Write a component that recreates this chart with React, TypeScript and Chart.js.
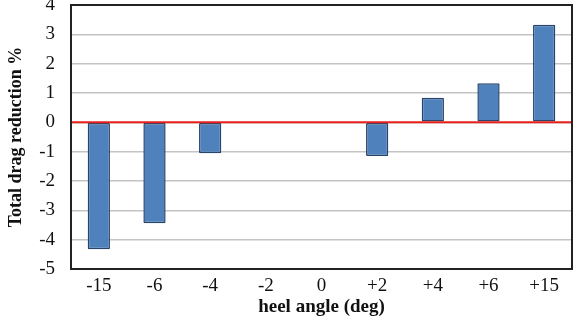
import React, { useEffect, useRef } from "react";
import { Chart, registerables } from "chart.js";

Chart.register(...registerables);

const categories = ["-15", "-6", "-4", "-2", "0", "+2", "+4", "+6", "+15"];
const dragReduction: (number | null)[] = [-4.33, -3.44, -1.05, null, null, -1.15, 0.84, 1.33, 3.33];
const yMin = -5;
const yMax = 4;

const serif = "'Liberation Serif', 'Times New Roman', serif";

const frameAndZero = {
  id: "frameAndZero",
  afterDatasetsDraw(chart: any) {
    const { ctx, chartArea, scales } = chart;
    const y0 = scales.y.getPixelForValue(0);
    ctx.save();
    ctx.strokeStyle = "#e8201c";
    ctx.lineWidth = 2;
    ctx.beginPath();
    ctx.moveTo(chartArea.left, y0);
    ctx.lineTo(chartArea.right, y0);
    ctx.stroke();
    ctx.strokeStyle = "#222";
    ctx.lineWidth = 2;
    ctx.strokeRect(chartArea.left, chartArea.top, chartArea.right - chartArea.left, chartArea.bottom - chartArea.top);
    ctx.restore();
  },
};

export default function App() {
  const ref = useRef<HTMLCanvasElement>(null);
  useEffect(() => {
    const chart = new Chart(ref.current!, {
      type: "bar",
      data: {
        labels: categories,
        datasets: [
          {
            data: dragReduction as any,
            backgroundColor: "#4f81bd",
            borderColor: "#27446a",
            borderWidth: 1.5,
            borderSkipped: false,
            borderRadius: 1,
            barPercentage: 0.4,
            categoryPercentage: 1,
          },
        ],
      },
      options: {
        animation: false,
        responsive: false,
        maintainAspectRatio: false,
        layout: { padding: { left: 0, top: 5, right: 6, bottom: 0 } },
        plugins: { legend: { display: false }, tooltip: { enabled: false } },
        scales: {
          x: {
            grid: { display: false, drawTicks: false },
            border: { display: false },
            ticks: {
              color: "#111",
              font: { family: serif, size: 19 },
              padding: 6,
            },
            title: {
              display: true,
              text: "heel angle (deg)",
              color: "#111",
              font: { family: serif, size: 19, weight: "bold" },
              padding: { top: 0, bottom: 4 },
            },
            afterFit(scale: any) {
              scale.height = 53;
              scale.paddingLeft = 0;
              scale.paddingRight = 0;
            },
          },
          y: {
            min: yMin,
            max: yMax,
            grid: { color: "#c4c4c4", lineWidth: 1.5, drawTicks: false },
            border: { display: false },
            ticks: {
              stepSize: 1,
              color: "#111",
              font: { family: serif, size: 19 },
              padding: 16,
            },
            title: {
              display: true,
              text: "Total drag reduction %",
              color: "#111",
              font: { family: serif, size: 18, weight: "bold" },
              padding: { top: 6, bottom: 0 },
            },
            afterFit(scale: any) {
              scale.width = 71;
              scale.paddingTop = 0;
              scale.paddingBottom = 0;
            },
          },
        },
      },
      plugins: [frameAndZero],
    });
    return () => chart.destroy();
  }, []);
  return (
    <div style={{ position: "absolute", left: 0, top: 0, width: 578, height: 322, background: "#fff" }}>
      <canvas ref={ref} width={578} height={322} />
    </div>
  );
}
